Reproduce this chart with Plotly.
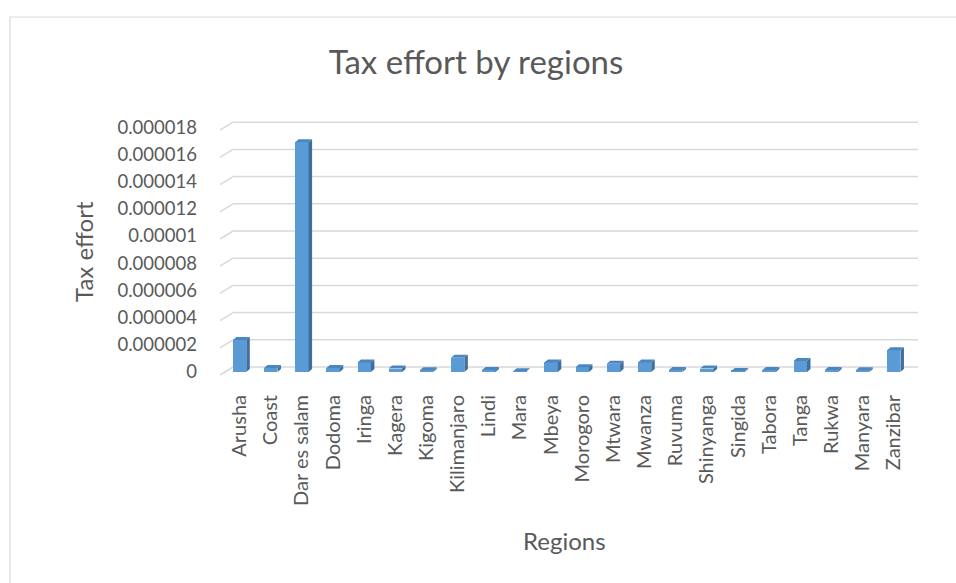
import plotly.graph_objects as go

# ---- data -------------------------------------------------------------
regions = ["Arusha", "Coast", "Dar es salam", "Dodoma", "Iringa", "Kagera",
           "Kigoma", "Kilimanjaro", "Lindi", "Mara", "Mbeya", "Morogoro",
           "Mtwara", "Mwanza", "Ruvuma", "Shinyanga", "Singida", "Tabora",
           "Tanga", "Rukwa", "Manyara", "Zanzibar"]
tax_effort = [2.35e-6, 0.30e-6, 1.69e-5, 0.30e-6, 0.70e-6, 0.25e-6,
              0.12e-6, 1.05e-6, 0.15e-6, 0.05e-6, 0.70e-6, 0.35e-6,
              0.60e-6, 0.70e-6, 0.15e-6, 0.25e-6, 0.08e-6, 0.15e-6,
              0.80e-6, 0.15e-6, 0.12e-6, 1.60e-6]
y_ticks = [0, 2e-6, 4e-6, 6e-6, 8e-6, 1e-5, 1.2e-5, 1.4e-5, 1.6e-5, 1.8e-5]
y_tick_text = ["0", "0.000002", "0.000004", "0.000006", "0.000008",
               "0.00001", "0.000012", "0.000014", "0.000016", "0.000018"]

# ---- geometry (pixels) ------------------------------------------------
W, H = 956, 583
PX_X = 31.15          # pixels per category step
PX_Y = 13.6e6         # pixels per unit of tax effort
FIRST_X_PX = 239.6    # pixel centre of the first category
ZERO_Y_PX = 372       # pixel row of value 0
LEFT_PX, RIGHT_PX, TOP_PX, BOTTOM_PX = 220, 918, 120, 376

x_range = [(LEFT_PX - FIRST_X_PX) / PX_X, (RIGHT_PX - FIRST_X_PX) / PX_X]
y_range = [(ZERO_Y_PX - BOTTOM_PX) / PX_Y, (ZERO_Y_PX - TOP_PX) / PX_Y]

FRONT = "#5B9BD5"
SIDE = "#3E6F9E"
TOP = "#4C86C0"
TEXT = "#595959"
GRID = "#D9D9D9"
FONT = "Lato"

BAR_W = 0.43                 # front face width (category units)
DEPTH_X = 3.5 / PX_X         # 3-D depth, horizontal
DEPTH_Y = 3.0 / PX_Y         # 3-D depth, vertical

xs = list(range(len(regions)))

fig = go.Figure()

# front faces of the columns
fig.add_trace(go.Bar(x=xs, y=tax_effort, width=BAR_W, marker_color=FRONT,
                     marker_line_width=0, hoverinfo="skip", showlegend=False))

# side and top faces to give the columns depth
side_x, side_y, top_x, top_y = [], [], [], []
for x, v in zip(xs, tax_effort):
    r = x + BAR_W / 2
    l = x - BAR_W / 2
    side_x += [r, r + DEPTH_X, r + DEPTH_X, r, r, None]
    side_y += [0, DEPTH_Y, v + DEPTH_Y, v, 0, None]
    top_x += [l, r, r + DEPTH_X, l + DEPTH_X, l, None]
    top_y += [v, v, v + DEPTH_Y, v + DEPTH_Y, v, None]

fig.add_trace(go.Scatter(x=side_x, y=side_y, mode="lines", fill="toself",
                         fillcolor=SIDE, line=dict(width=0, color=SIDE),
                         hoverinfo="skip", showlegend=False))
fig.add_trace(go.Scatter(x=top_x, y=top_y, mode="lines", fill="toself",
                         fillcolor=TOP, line=dict(width=0, color=TOP),
                         hoverinfo="skip", showlegend=False))

# back-wall gridlines with a short diagonal along the side wall
shapes = []
wall_dx = 13 / PX_X
for v in y_ticks:
    front_v = v - 3 / PX_Y
    back_v = v + 5 / PX_Y
    shapes.append(dict(type="line", xref="x", yref="y", layer="below",
                       x0=x_range[0], y0=front_v, x1=x_range[0] + wall_dx, y1=back_v,
                       line=dict(color=GRID, width=1.5)))
    shapes.append(dict(type="line", xref="x", yref="y", layer="below",
                       x0=x_range[0] + wall_dx, y0=back_v, x1=x_range[1], y1=back_v,
                       line=dict(color=GRID, width=1.5)))

# chart frame
pw = RIGHT_PX - LEFT_PX
ph = BOTTOM_PX - TOP_PX
shapes.append(dict(type="rect", xref="paper", yref="paper", layer="below",
                   x0=(10 - LEFT_PX) / pw, x1=(962 - LEFT_PX) / pw,
                   y0=(BOTTOM_PX - 590) / ph, y1=(BOTTOM_PX - 17) / ph,
                   line=dict(color="#D9D9D9", width=1.2), fillcolor="rgba(0,0,0,0)"))

fig.update_layout(
    width=W, height=H,
    margin=dict(l=LEFT_PX, r=W - RIGHT_PX, t=TOP_PX, b=H - BOTTOM_PX, pad=0),
    paper_bgcolor="white", plot_bgcolor="rgba(0,0,0,0)",
    font=dict(family=FONT, color=TEXT),
    shapes=shapes,
    bargap=0,
    title=dict(text="Tax effort by regions", x=476 / W, xref="container",
               xanchor="center", y=1 - 62 / H, yref="container", yanchor="middle",
               font=dict(family=FONT, size=33, color=TEXT)),
    xaxis=dict(range=x_range, tickmode="array", tickvals=xs, ticktext=regions,
               tickangle=-90, showgrid=False, zeroline=False, showline=False,
               ticks="", ticklabelstandoff=14,
               tickfont=dict(family=FONT, size=20, color=TEXT),
               fixedrange=True),
    yaxis=dict(range=y_range, tickmode="array", tickvals=y_ticks,
               ticktext=y_tick_text, showgrid=False, zeroline=False,
               showline=False, ticks="", ticklabelstandoff=22,
               tickfont=dict(family=FONT, size=18.5, color=TEXT),
               fixedrange=True),
    annotations=[
        dict(text="Regions", xref="paper", yref="paper",
             x=(564 - LEFT_PX) / pw, y=(BOTTOM_PX - 540) / ph,
             xanchor="center", yanchor="middle", showarrow=False,
             font=dict(family=FONT, size=24, color=TEXT)),
        dict(text="Tax effort", xref="paper", yref="paper",
             x=(83 - LEFT_PX) / pw, y=(BOTTOM_PX - 252) / ph, textangle=-90,
             xanchor="center", yanchor="middle", showarrow=False,
             font=dict(family=FONT, size=24, color=TEXT)),
    ],
)

fig.write_html("out.html")
